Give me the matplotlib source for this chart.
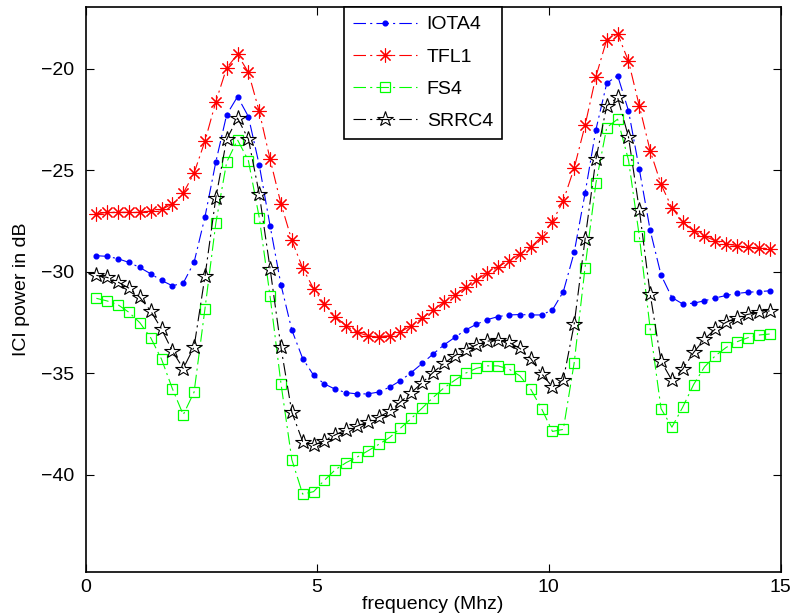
import numpy as np
import matplotlib
matplotlib.use("Agg")
import matplotlib.pyplot as plt

plt.rcParams['font.family'] = ['Liberation Sans', 'DejaVu Sans']
plt.rcParams['lines.scale_dashes'] = False

# subcarrier frequencies (MHz)
freq = np.arange(1, 64) * 15.0 / 64.0

iota4 = [-29.21, -29.24, -29.36, -29.54, -29.79, -30.10, -30.43, -30.69, -30.56, -29.53,
         -27.30, -24.59, -22.26, -21.37, -22.35, -24.74, -27.74, -30.64, -32.87, -34.28,
         -35.10, -35.53, -35.79, -35.96, -36.02, -36.02, -35.93, -35.69, -35.37, -34.97,
         -34.52, -34.06, -33.61, -33.24, -32.87, -32.59, -32.36, -32.21, -32.13, -32.11,
         -32.13, -32.13, -31.88, -30.98, -29.05, -26.14, -23.00, -20.71, -20.33, -22.06,
         -24.95, -27.96, -30.16, -31.27, -31.59, -31.55, -31.43, -31.29, -31.17, -31.07,
         -31.01, -30.98, -30.94]

tfl1 = [-27.15, -27.07, -27.07, -27.07, -27.07, -27.01, -26.93, -26.66, -26.13, -25.13,
        -23.56, -21.62, -19.95, -19.29, -20.17, -22.10, -24.46, -26.65, -28.45, -29.82,
        -30.83, -31.60, -32.21, -32.66, -32.99, -33.15, -33.20, -33.15, -32.96, -32.66,
        -32.30, -31.88, -31.50, -31.14, -30.77, -30.40, -30.05, -29.75, -29.45, -29.13,
        -28.79, -28.27, -27.53, -26.50, -24.89, -22.79, -20.38, -18.56, -18.27, -19.62,
        -21.83, -24.04, -25.69, -26.85, -27.54, -28.00, -28.25, -28.47, -28.63, -28.71,
        -28.80, -28.83, -28.86]

fs4 = [-31.31, -31.44, -31.63, -32.00, -32.51, -33.25, -34.31, -35.76, -37.05, -35.93,
       -31.83, -27.61, -24.60, -23.50, -24.52, -27.33, -31.22, -35.51, -39.26, -40.96,
       -40.84, -40.28, -39.76, -39.41, -39.14, -38.83, -38.51, -38.17, -37.71, -37.23,
       -36.72, -36.20, -35.73, -35.35, -35.00, -34.76, -34.64, -34.64, -34.80, -35.13,
       -35.79, -36.75, -37.87, -37.77, -34.49, -29.80, -25.64, -22.89, -22.48, -24.49,
       -28.25, -32.82, -36.75, -37.66, -36.67, -35.56, -34.69, -34.14, -33.73, -33.45,
       -33.25, -33.12, -33.07]

srrc4 = [-30.18, -30.28, -30.51, -30.81, -31.26, -31.93, -32.82, -33.91, -34.77, -33.70,
         -30.23, -26.36, -23.47, -22.43, -23.46, -26.16, -29.85, -33.73, -36.92, -38.37,
         -38.56, -38.32, -38.04, -37.79, -37.61, -37.41, -37.16, -36.88, -36.42, -35.96,
         -35.47, -34.97, -34.52, -34.14, -33.85, -33.60, -33.42, -33.37, -33.48, -33.78,
         -34.28, -35.02, -35.68, -35.32, -32.59, -28.40, -24.46, -21.82, -21.41, -23.35,
         -26.95, -31.11, -34.41, -35.35, -34.80, -33.98, -33.32, -32.82, -32.49, -32.26,
         -32.10, -32.00, -31.93]

labels = ['IOTA4', 'TFL1', 'FS4', 'SRRC4']

fig = plt.figure(figsize=(7.96, 6.16), dpi=100)
ax = fig.add_axes([85.5 / 796, 1 - 572 / 616, (780.5 - 85.5) / 796, (572 - 7) / 616])

dash = (0, (9, 3, 1.5, 3))
lw = 0.8
ax.plot(freq, iota4, color='#0000ff', linestyle=dash, lw=lw, marker='o', ms=3.4,
        mfc='#0000ff', mec='#0000ff', label=labels[0])
ax.plot(freq, tfl1, color='#ff0000', linestyle=dash, lw=lw, marker=(8, 2, 0), ms=10,
        mew=0.8, label=labels[1])
ax.plot(freq, fs4, color='#00ff00', linestyle=dash, lw=lw, marker='s', ms=7.5,
        mfc='none', mew=0.9, label=labels[2])
ax.plot(freq, srrc4, color='#000000', linestyle=dash, lw=lw, marker='*', ms=11.5,
        mfc='none', mew=0.8, label=labels[3])

ax.set_xlim(0, 15)
ax.set_ylim(-44.8, -16.95)
ax.set_xticks([0, 5, 10, 15])
ax.set_yticks([-40, -35, -30, -25, -20])
ax.tick_params(direction='in', top=True, right=True, length=6, width=0.8,
               labelsize=14)
ax.tick_params(axis='x', pad=5)
ax.tick_params(axis='y', pad=8)
for s in ax.spines.values():
    s.set_linewidth(1.2)

ax.set_xlabel('frequency (Mhz)', fontsize=14, labelpad=0)
ax.set_ylabel('ICI power in dB', fontsize=14, labelpad=8)

leg = ax.legend(loc='upper left', bbox_to_anchor=((344 - 85.5) / 695, 1.0),
                fontsize=14, frameon=True, fancybox=False, edgecolor='black',
                framealpha=1, handlelength=3.3, handletextpad=0.5, labelspacing=0.75,
                borderpad=0.45, borderaxespad=0.0, numpoints=1)
leg.get_frame().set_linewidth(1.2)

fig.savefig('out.png', dpi=100)
